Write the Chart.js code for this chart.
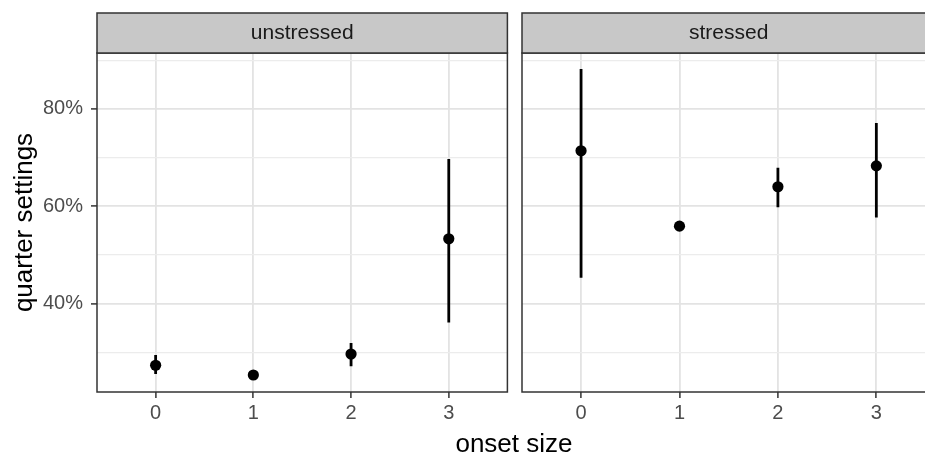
<!DOCTYPE html>
<html lang="en">
<head>
    <meta charset="UTF-8">
    <title>quarter settings by onset size</title>
    <script src="https://cdn.jsdelivr.net/npm/chart.js"></script>
    <style>
        html, body {
            margin: 0;
            padding: 0;
            background: #fff;
            overflow: hidden;
            width: 925px;
            height: 453px;
            font-family: "Liberation Sans", Arial, sans-serif;
        }
        canvas {
            position: absolute;
            top: 0;
        }
        #left { left: 0; }
        #right { left: 515px; }
        #xtitle {
            position: absolute;
            left: 414px;
            width: 200px;
            top: 430px;
            text-align: center;
            font-size: 26px;
            line-height: 26px;
            color: #000;
        }
    </style>
</head>
<body>
    <canvas id="left" width="513" height="453"></canvas>
    <canvas id="right" width="426" height="453"></canvas>
    <div id="xtitle">onset size</div>
    <script>
    // facets and axes
    const panels = ['unstressed', 'stressed'];
    const onsetSizes = [0, 1, 2, 3];
    const yMajor = [40, 60, 80];
    const yMinor = [30, 50, 70, 90];

    // values (percent)
    const unstressedMean = [27.3, 25.3, 29.6, 53.3];
    const unstressedLow  = [25.5, 25.3, 27.1, 36.1];
    const unstressedHigh = [29.4, 25.3, 31.9, 69.7];

    const stressedMean = [71.4, 55.9, 64.0, 68.3];
    const stressedLow  = [45.3, 55.9, 59.8, 57.7];
    const stressedHigh = [88.2, 55.9, 67.9, 77.1];

    const tickFont = { family: '"Liberation Sans", Arial, sans-serif', size: 20 };
    const yGridTicks = yMajor.concat(yMinor).sort((a, b) => a - b);

    // strip + full panel border, like ggplot facets
    const stripPlugin = {
        id: 'strip',
        afterDraw(chart, args, opts) {
            const { ctx, chartArea: a } = chart;
            const w = a.right - a.left;
            ctx.save();
            ctx.strokeStyle = '#333';
            ctx.lineWidth = 1.5;
            ctx.strokeRect(a.left, a.top, w, a.bottom - a.top);
            ctx.fillStyle = '#c8c8c8';
            ctx.fillRect(a.left, 13, w, 40);
            ctx.strokeRect(a.left, 13, w, 40);
            ctx.fillStyle = '#1a1a1a';
            ctx.font = '21px "Liberation Sans", Arial, sans-serif';
            ctx.textAlign = 'center';
            ctx.textBaseline = 'middle';
            ctx.fillText(opts.text, (a.left + a.right) / 2, 33);
            ctx.restore();
        }
    };

    function makeChart(id, title, mean, low, high, isFirst) {
        const points = {
            type: 'scatter',
            data: onsetSizes.map((x, i) => ({ x: x, y: mean[i] })),
            backgroundColor: '#000',
            borderColor: '#000',
            pointRadius: 5.6,
            pointHoverRadius: 5.6,
            borderWidth: 0
        };
        const bars = onsetSizes.map((x, i) => ({
            type: 'line',
            data: [{ x: x, y: low[i] }, { x: x, y: high[i] }],
            borderColor: '#000',
            borderWidth: 2.8,
            borderCapStyle: 'butt',
            pointRadius: 0,
            fill: false
        }));

        return new Chart(document.getElementById(id), {
            type: 'scatter',
            data: { datasets: [points].concat(bars) },
            plugins: [stripPlugin],
            options: {
                responsive: false,
                animation: false,
                events: [],
                layout: { padding: { left: isFirst ? 0 : 7, right: 1, top: 53, bottom: 0 } },
                plugins: {
                    legend: { display: false },
                    tooltip: { enabled: false },
                    strip: { text: title }
                },
                scales: {
                    x: {
                        type: 'linear',
                        min: -0.6,
                        max: 3.6,
                        afterBuildTicks: s => { s.ticks = onsetSizes.map(v => ({ value: v })); },
                        afterFit: s => { s.height = 61; },
                        border: { display: false },
                        grid: {
                            color: '#e3e3e3',
                            lineWidth: 1.8,
                            drawTicks: true,
                            tickLength: 6,
                            tickColor: '#333',
                            tickWidth: 1.5
                        },
                        ticks: {
                            font: tickFont,
                            color: '#4d4d4d',
                            padding: 3,
                            maxRotation: 0,
                            autoSkip: false
                        }
                    },
                    y: {
                        type: 'linear',
                        min: 21.8,
                        max: 91.5,
                        afterBuildTicks: s => { s.ticks = yGridTicks.map(v => ({ value: v })); },
                        afterFit: s => { s.width = isFirst ? 97 : 0; },
                        border: { display: false },
                        grid: {
                            color: ctx => yMajor.includes(ctx.tick.value) ? '#e3e3e3' : '#ececec',
                            lineWidth: ctx => yMajor.includes(ctx.tick.value) ? 1.8 : 1.2,
                            drawTicks: isFirst,
                            tickLength: 6,
                            tickColor: ctx => yMajor.includes(ctx.tick.value) ? '#333' : 'rgba(0,0,0,0)',
                            tickWidth: 1.5
                        },
                        ticks: {
                            display: isFirst,
                            font: tickFont,
                            color: '#4d4d4d',
                            padding: 8,
                            autoSkip: false,
                            callback: v => yMajor.includes(v) ? v + '%' : ''
                        },
                        title: {
                            display: isFirst,
                            text: 'quarter settings',
                            color: '#000',
                            font: { family: '"Liberation Sans", Arial, sans-serif', size: 26 },
                            padding: { top: 9, bottom: 0 }
                        }
                    }
                }
            }
        });
    }

    makeChart('left', panels[0], unstressedMean, unstressedLow, unstressedHigh, true);
    makeChart('right', panels[1], stressedMean, stressedLow, stressedHigh, false);
    </script>
</body>
</html>
